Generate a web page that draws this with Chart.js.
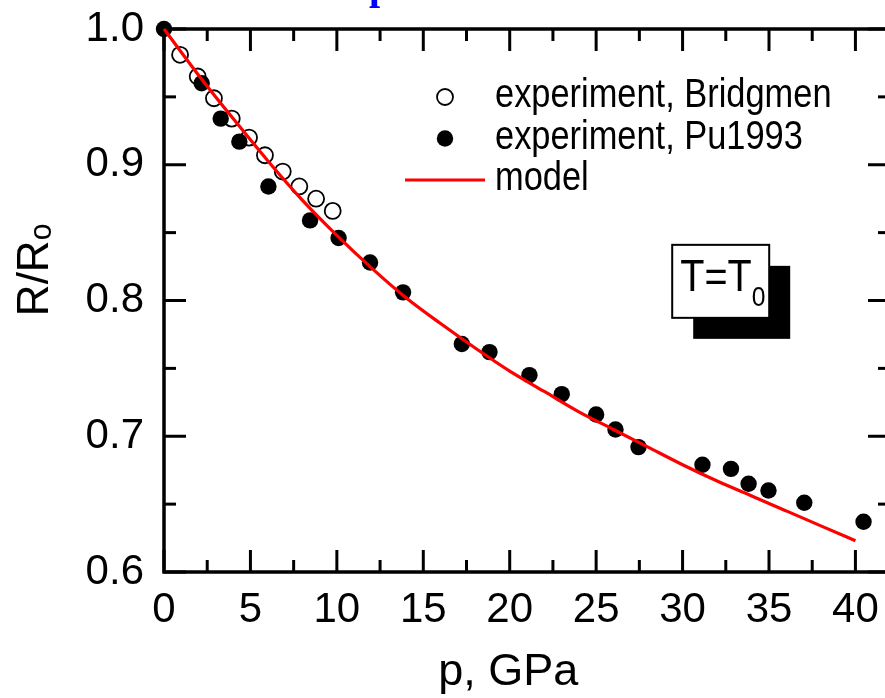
<!DOCTYPE html>
<html>
<head>
<meta charset="utf-8">
<script src="https://cdn.jsdelivr.net/npm/chart.js@4.4.0/dist/chart.umd.min.js"></script>
<style>
html, body { margin: 0; padding: 0; background: #fff; overflow: hidden; }
#wrap { position: relative; width: 900px; height: 698px; }
</style>
</head>
<body>
<div id="wrap"><canvas id="c"></canvas></div>
<script>
// ---- data ----
const bridgmenP = [0.93, 1.95, 2.89, 3.92, 4.92, 5.84, 6.87, 7.83, 8.80, 9.76];
const bridgmenR = [0.981, 0.965, 0.949, 0.934, 0.920, 0.907, 0.895, 0.884, 0.875, 0.866];

const pu1993P = [0, 2.18, 3.28, 4.36, 6.04, 8.45, 10.1, 11.92, 13.83, 17.23, 18.83, 21.14, 23.01, 25.0, 26.12, 27.45, 31.15, 32.8, 33.82, 34.97, 37.04, 40.47];
const pu1993R = [1.000, 0.960, 0.934, 0.917, 0.884, 0.859, 0.846, 0.828, 0.806, 0.768, 0.762, 0.745, 0.731, 0.716, 0.705, 0.692, 0.679, 0.676, 0.665, 0.660, 0.651, 0.637];

const modelP = [0, 2, 4, 6, 8, 10, 12, 14, 16, 18, 20, 22, 24, 26, 28, 30, 32, 34, 36, 38, 40];
const modelR = [1.000, 0.966, 0.934, 0.903, 0.874, 0.848, 0.824, 0.802, 0.783, 0.765, 0.748, 0.733, 0.718, 0.705, 0.692, 0.679, 0.667, 0.656, 0.645, 0.634, 0.623];

const xTicks = [0, 5, 10, 15, 20, 25, 30, 35, 40];
const xTickLabels = ['0', '5', '10', '15', '20', '25', '30', '35', '40'];
const yTicks = [0.6, 0.7, 0.8, 0.9, 1.0];
const yTickLabels = ['0.6', '0.7', '0.8', '0.9', '1.0'];
const xMinorTicks = [2.5, 7.5, 12.5, 17.5, 22.5, 27.5, 32.5, 37.5];
const yMinorTicks = [0.65, 0.75, 0.85, 0.95];

const seriesLabels = ['experiment, Bridgmen', 'experiment, Pu1993', 'model'];

const SANS = '"Liberation Sans", Arial, sans-serif';

const toXY = (xs, ys) => xs.map((v, i) => ({ x: v, y: ys[i] }));

// draw text horizontally condensed (the reference uses a narrow face)
function narrowText(ctx, text, x, y, sx) {
  ctx.save();
  ctx.translate(x, y);
  ctx.scale(sx, 1);
  ctx.fillText(text, 0, 0);
  ctx.restore();
  return ctx.measureText(text).width * sx;
}

const framePlugin = {
  id: 'frame',
  beforeDatasetsDraw(chart) {
    const { ctx, chartArea: a, scales: { x, y } } = chart;
    ctx.save();
    ctx.strokeStyle = '#000';
    ctx.lineCap = 'butt';
    ctx.lineWidth = 3;
    const MAJ = 22, MIN = 12;
    const vt = (v, len) => {
      const px = x.getPixelForValue(v);
      ctx.beginPath(); ctx.moveTo(px, a.bottom); ctx.lineTo(px, a.bottom - len); ctx.stroke();
      ctx.beginPath(); ctx.moveTo(px, a.top); ctx.lineTo(px, a.top + len); ctx.stroke();
    };
    const ht = (v, len) => {
      const py = y.getPixelForValue(v);
      ctx.beginPath(); ctx.moveTo(a.left, py); ctx.lineTo(a.left + len, py); ctx.stroke();
      ctx.beginPath(); ctx.moveTo(a.right, py); ctx.lineTo(a.right - len, py); ctx.stroke();
    };
    xTicks.forEach(v => vt(v, MAJ));
    xMinorTicks.forEach(v => vt(v, MIN));
    yTicks.forEach(v => ht(v, MAJ));
    yMinorTicks.forEach(v => ht(v, MIN));
    ctx.lineWidth = 3.5;
    ctx.strokeRect(a.left, a.top, a.right - a.left, a.bottom - a.top);
    ctx.restore();
  },
  afterDraw(chart) {
    const { ctx, scales: { x, y } } = chart;
    const ds = chart.data.datasets;
    ctx.save();
    // partially visible blue heading glyph at the very top
    ctx.fillStyle = '#0000ff';
    ctx.font = 'bold 40px "Liberation Serif", "Times New Roman", serif';
    ctx.textBaseline = 'alphabetic';
    ctx.textAlign = 'left';
    ctx.fillText('p', 369, -1);

    // legend
    const lx = 445, rows = [97, 138.5, 180], tx = 495;
    ctx.lineWidth = ds[0].pointBorderWidth;
    ctx.strokeStyle = ds[0].pointBorderColor;
    ctx.fillStyle = ds[0].pointBackgroundColor;
    ctx.beginPath(); ctx.arc(lx, rows[0], ds[0].pointRadius, 0, Math.PI * 2); ctx.fill(); ctx.stroke();
    ctx.fillStyle = ds[1].pointBackgroundColor;
    ctx.beginPath(); ctx.arc(lx, rows[1], ds[1].pointRadius, 0, Math.PI * 2); ctx.fill();
    ctx.strokeStyle = ds[2].borderColor; ctx.lineWidth = ds[2].borderWidth;
    ctx.beginPath(); ctx.moveTo(405, rows[2]); ctx.lineTo(485, rows[2]); ctx.stroke();
    ctx.fillStyle = '#000';
    ctx.font = '40px ' + SANS;
    ctx.textBaseline = 'alphabetic';
    seriesLabels.forEach((t, i) => narrowText(ctx, t, tx, rows[i] + 10, 0.86));

    // T = T0 box anchored to data coordinates
    const bx = x.getPixelForValue(29.4), by = y.getPixelForValue(0.841);
    const bw = 97, bh = 73, off = 21;
    ctx.fillStyle = '#000';
    ctx.fillRect(bx + off, by + off, bw, bh);
    ctx.fillStyle = '#fff';
    ctx.fillRect(bx, by, bw, bh);
    ctx.lineWidth = 2; ctx.strokeStyle = '#000';
    ctx.strokeRect(bx, by, bw, bh);
    ctx.fillStyle = '#000';
    ctx.font = '45px ' + SANS;
    const w = narrowText(ctx, 'T=T', bx + 8, by + 46, 0.88);
    ctx.font = '28px ' + SANS;
    narrowText(ctx, '0', bx + 8 + w, by + 61, 0.88);
    ctx.restore();
  }
};

new Chart(document.getElementById('c'), {
  type: 'scatter',
  data: {
    datasets: [
      {
        label: seriesLabels[0],
        data: toXY(bridgmenP, bridgmenR),
        pointStyle: 'circle', pointRadius: 8, pointBorderWidth: 1.8,
        pointBackgroundColor: '#ffffff', pointBorderColor: '#000000',
        showLine: false, order: 2, clip: false
      },
      {
        label: seriesLabels[1],
        data: toXY(pu1993P, pu1993R),
        pointStyle: 'circle', pointRadius: 8.2, pointBorderWidth: 0,
        pointBackgroundColor: '#000000', pointBorderColor: '#000000',
        showLine: false, order: 1, clip: false
      },
      {
        label: seriesLabels[2],
        data: toXY(modelP, modelR),
        showLine: true, borderColor: '#ff0000', borderWidth: 3.2,
        pointRadius: 0, fill: false, cubicInterpolationMode: 'monotone',
        order: 0, clip: false
      }
    ]
  },
  options: {
    responsive: true,
    maintainAspectRatio: false,
    animation: false,
    events: [],
    layout: { padding: { top: 29, right: 10, left: 0, bottom: 0 } },
    plugins: { legend: { display: false }, tooltip: { enabled: false } },
    scales: {
      x: {
        type: 'linear', position: 'bottom', min: 0, max: 42,
        afterBuildTicks: s => { s.ticks = xTicks.map(v => ({ value: v })); },
        afterFit: s => { s.height = 126; s.paddingLeft = 0; s.paddingRight = 0; },
        grid: { display: false, drawTicks: false },
        border: { display: false },
        ticks: {
          padding: 13, color: '#000', autoSkip: false, maxRotation: 0,
          font: { family: SANS, size: 42 },
          callback: (v, i) => xTickLabels[i]
        },
        title: {
          display: true, text: 'p, GPa   ', color: '#000',
          font: { family: SANS, size: 45, lineHeight: 1 },
          padding: { top: 0, bottom: 3 }
        }
      },
      y: {
        type: 'linear', position: 'left', min: 0.6, max: 1.0,
        afterBuildTicks: s => { s.ticks = yTicks.map(v => ({ value: v })); },
        afterFit: s => { s.width = 164; s.paddingTop = 0; s.paddingBottom = 0; },
        grid: { display: false, drawTicks: false },
        border: { display: false },
        ticks: {
          padding: 20, color: '#000', autoSkip: false,
          font: { family: SANS, size: 42 },
          callback: (v, i) => yTickLabels[i]
        },
        title: {
          display: true, text: '     R/R\u2092', color: '#000',
          font: { family: SANS, size: 44, lineHeight: 1 },
          padding: { top: 14, bottom: 0 }
        }
      }
    }
  },
  plugins: [framePlugin]
});
</script>
</body>
</html>
